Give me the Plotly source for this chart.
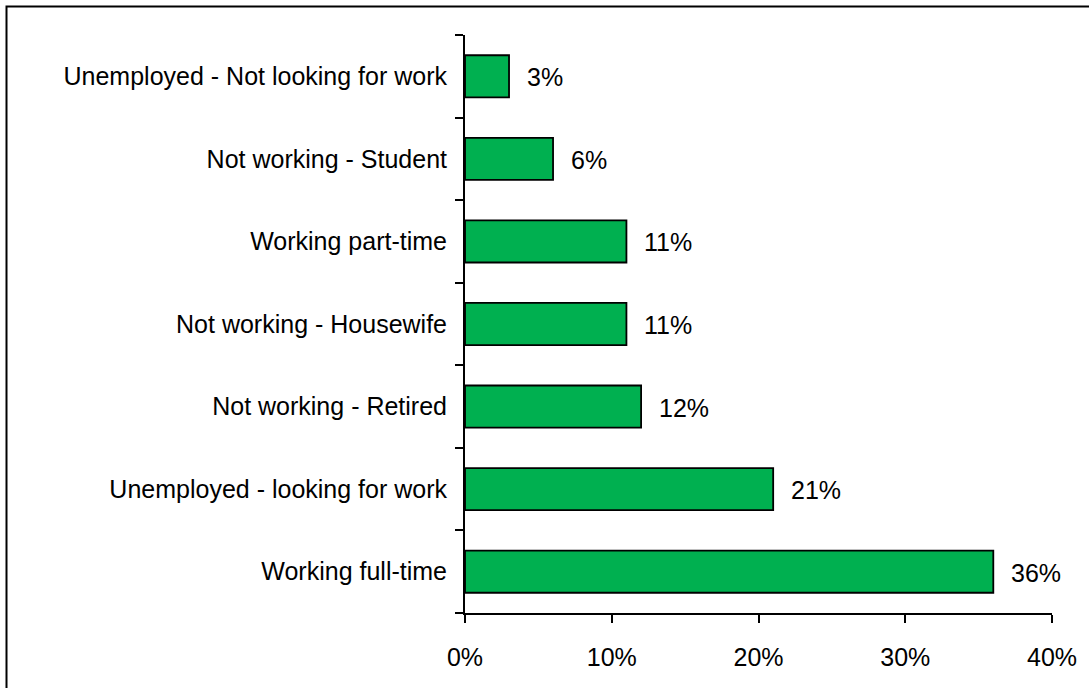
import plotly.graph_objects as go

# Employment status shares (bottom to top)
categories = [
    "Working full-time",
    "Unemployed - looking for work",
    "Not working - Retired",
    "Not working - Housewife",
    "Working part-time",
    "Not working - Student",
    "Unemployed - Not looking for work",
]
shares = [0.36, 0.21, 0.12, 0.11, 0.11, 0.06, 0.03]
value_labels = ["36%", "21%", "12%", "11%", "11%", "6%", "3%"]

W, H = 1089, 688
L, R, T, B = 465, 37, 35, 75
FONT = dict(family="Liberation Sans, Arial, sans-serif", size=25, color="#000000")

fig = go.Figure(
    go.Bar(
        x=shares,
        y=categories,
        orientation="h",
        marker=dict(color="#00B050", line=dict(color="#000000", width=1.8)),
        hoverinfo="skip",
    )
)

# value labels placed just right of each bar end
for cat, val, lab in zip(categories, shares, value_labels):
    fig.add_annotation(
        x=val, y=cat, text=lab, showarrow=False,
        xanchor="left", yanchor="middle", xshift=16, yshift=-1,
        font=FONT,
    )

# outer chart frame (top and left edges visible)
pw, ph = W - L - R, H - T - B
fig.add_shape(
    type="rect", xref="paper", yref="paper",
    x0=(6.5 - L) / pw, x1=(W + 20 - L) / pw,
    y0=-(H + 20 - (H - B)) / ph, y1=((H - B) - 6.5) / ph,
    line=dict(color="#000000", width=2), fillcolor="rgba(0,0,0,0)",
)

fig.update_layout(
    width=W, height=H,
    margin=dict(l=L, r=R, t=T, b=B),
    paper_bgcolor="white", plot_bgcolor="white",
    bargap=0.49,
    showlegend=False,
    font=FONT,
    xaxis=dict(
        range=[0, 0.4], dtick=0.1, tickformat=".0%",
        showgrid=False, zeroline=False,
        showline=True, linecolor="#000000", linewidth=2,
        ticks="outside", ticklen=8, tickwidth=1.5, tickcolor="#000000",
        ticklabelstandoff=13, tickfont=FONT,
    ),
    yaxis=dict(
        type="category", categoryorder="array", categoryarray=categories,
        range=[-0.5, 6.5],
        showgrid=False, zeroline=False,
        showline=True, linecolor="#000000", linewidth=2,
        ticks="outside", ticklen=8, tickwidth=1.5, tickcolor="#000000",
        tickson="boundaries", ticklabelstandoff=11, tickfont=FONT,
    ),
)

fig.write_html("out.html")
